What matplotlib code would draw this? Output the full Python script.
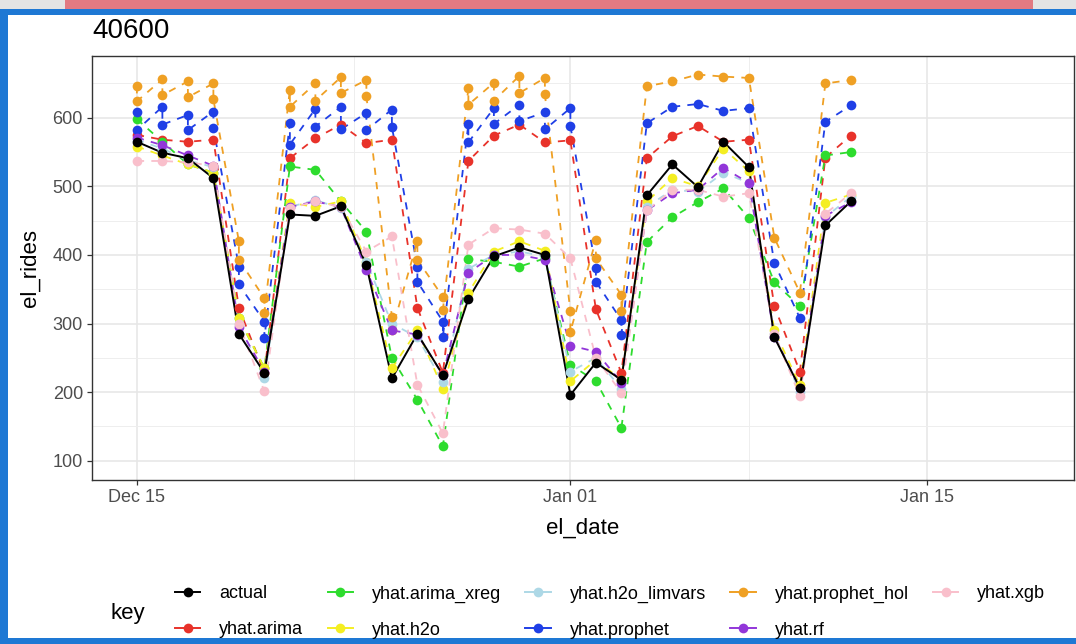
import matplotlib
matplotlib.use("Agg")
import matplotlib.pyplot as plt
import matplotlib.dates as mdates
from matplotlib.lines import Line2D
from matplotlib.patches import Rectangle
import numpy as np
import pandas as pd

plt.rcParams['font.family'] = ['Liberation Sans', 'DejaVu Sans']

# ---------------- data ----------------
dates = pd.date_range("2015-12-15", periods=29, freq="D")

actual = [565, 549, 541, 512, 285, 228, 459, 457, 471, 385, 220, 285, 225, 336, 398,
          411, 400, 196, 243, 218, 487, 532, 499, 565, 528, 280, 206, 443, 478]
arima = [575, 568, 565, 568, 323, 228, 541, 570, 590, 563, 568, 323, 228, 537, 574,
         590, 564, 567, 321, 228, 541, 573, 588, 565, 568, 325, 230, 542, 574]
arima_xreg = [598, 565, 532, 520, 308, 235, 529, 524, 478, 434, 250, 189, 121, 394, 390,
              383, 395, 240, 216, 148, 419, 455, 477, 497, 454, 360, 325, 545, 550]
h2o = [558, 545, 532, 520, 308, 235, 476, 470, 478, 390, 235, 290, 205, 345, 405,
       420, 406, 216, 247, 218, 478, 512, 500, 555, 522, 290, 210, 476, 488]
h2o_limvars = [568, 555, 538, 528, 300, 220, 470, 480, 468, 390, 300, 280, 215, 380, 400,
               405, 398, 230, 250, 205, 470, 495, 492, 520, 505, 285, 200, 455, 485]
prophet_a = [609, 616, 604, 609, 383, 303, 592, 613, 616, 607, 612, 383, 303, 591, 614,
             619, 608, 614, 381, 305, 592, 616, 620, 610, 614, 388, 308, 594, 618]
prophet_b = [582, 590, 582, 585, 357, 279, 561, 587, 583, 582, 587, 361, 281, 564, 591,
             595, 583, 588, 361, 284, None, None, None, None, None, None, None, None, None]
prophet_hol_a = [646, 656, 653, 650, 420, 337, 641, 650, 659, 655, 310, 420, 339, 643, 651,
                 661, 658, 318, 422, 342, 646, 653, 663, 660, 658, 425, 345, 650, 655]
prophet_hol_b = [624, 633, 630, 627, 393, 316, 616, 625, 636, 632, 290, 393, 320, 619, 625,
                 636, 634, 288, 395, 318, None, None, None, None, None, None, None, None, None]
rf = [571, 560, 545, 530, 295, 230, 470, 478, 470, 378, 290, 284, 225, 374, 400,
      400, 393, 268, 259, 214, 465, 490, 495, 527, 505, 281, 206, 457, 477]
xgb = [537, 537, 535, 530, 300, 201, 468, 478, 470, 405, 427, 211, 140, 415, 439,
       437, 431, 395, 250, 199, 465, 495, 495, 485, 490, 285, 194, 460, 490]

keys = ["actual", "yhat.arima", "yhat.arima_xreg", "yhat.h2o", "yhat.h2o_limvars",
        "yhat.prophet", "yhat.prophet_hol", "yhat.rf", "yhat.xgb"]
colors = ["#000000", "#E8322A", "#2EDC2E", "#F4EE22", "#ADD8E6",
          "#1F3FE6", "#EFA024", "#9236D9", "#F9BFCB"]

series = {
    "actual": (actual, None),
    "yhat.arima": (arima, None),
    "yhat.arima_xreg": (arima_xreg, None),
    "yhat.h2o": (h2o, None),
    "yhat.h2o_limvars": (h2o_limvars, None),
    "yhat.prophet": (prophet_a, prophet_b),
    "yhat.prophet_hol": (prophet_hol_a, prophet_hol_b),
    "yhat.rf": (rf, None),
    "yhat.xgb": (xgb, None),
}


def sequence(a, b):
    xs, ys = [], []
    for i, d in enumerate(dates):
        xs.append(d)
        ys.append(a[i])
        if b is not None and b[i] is not None:
            xs.append(d)
            ys.append(b[i])
    return xs, ys


W, H = 1076, 644
fig = plt.figure(figsize=(W / 100, H / 100), dpi=100)
fig.patch.set_facecolor("white")

# decorative frame from the screenshot
fig.patches.append(Rectangle((0, 1 - 9 / H), 1, 9 / H, transform=fig.transFigure,
                             facecolor="#E4E4E4", edgecolor="none", zorder=0))
fig.patches.append(Rectangle((65 / W, 1 - 9 / H), (1033 - 65) / W, 9 / H, transform=fig.transFigure,
                             facecolor="#E27A82", edgecolor="none", zorder=1))
fig.patches.append(Rectangle((0, 1 - 15 / H), 1, 6 / H, transform=fig.transFigure,
                             facecolor="#1E78D4", edgecolor="none", zorder=1))
fig.patches.append(Rectangle((0, 0), 8 / W, 1 - 9 / H, transform=fig.transFigure,
                             facecolor="#1E78D4", edgecolor="none", zorder=1))
fig.patches.append(Rectangle((0, 0), 1, 6 / H, transform=fig.transFigure,
                             facecolor="#1E78D4", edgecolor="none", zorder=1))

left, right, top, bottom = 92, 1074, 56, 480
ax = fig.add_axes([left / W, 1 - bottom / H, (right - left) / W, (bottom - top) / H])

# lines
for k, c in zip(keys, colors):
    a, b = series[k]
    xs, ys = sequence(a, b)
    if k == "actual":
        ax.plot(xs, ys, color=c, lw=1.4, zorder=4)
    else:
        ax.plot(xs, ys, color=c, lw=1.3, ls=(0, (4, 4)), zorder=3)

# points
for k, c in zip(keys, colors):
    if k == "actual":
        continue
    a, b = series[k]
    xs, ys = sequence(a, b)
    ax.plot(xs, ys, ls="none", marker="o", ms=7, color=c, mec="none", zorder=5)
xs, ys = sequence(actual, None)
ax.plot(xs, ys, ls="none", marker="o", ms=7, color="black", mec="none", zorder=6)

# axes styling (theme_bw-like)
d0 = pd.Timestamp("2015-12-15")
ax.set_xlim(mdates.date2num(d0 - pd.Timedelta(days=1.76)),
            mdates.date2num(d0 + pd.Timedelta(days=36.75)))
ax.set_ylim(72, 690)

major_x = [pd.Timestamp("2015-12-15"), pd.Timestamp("2016-01-01"), pd.Timestamp("2016-01-15")]
minor_x = [pd.Timestamp("2015-12-23 12:00"), pd.Timestamp("2016-01-08")]
ax.set_xticks([mdates.date2num(d) for d in major_x])
ax.set_xticklabels(["Dec 15", "Jan 01", "Jan 15"])
ax.set_xticks([mdates.date2num(d) for d in minor_x], minor=True)
ax.set_yticks([100, 200, 300, 400, 500, 600])
ax.set_yticks([150, 250, 350, 450, 550, 650], minor=True)

ax.grid(True, which="major", color="#E6E6E6", lw=1.1, zorder=0)
ax.grid(True, which="minor", color="#EEEEEE", lw=0.7, zorder=0)
ax.set_axisbelow(True)
ax.tick_params(which="major", length=3.5, width=0.9, color="#333333",
               labelsize=13, labelcolor="#4D4D4D", pad=3)
ax.tick_params(which="minor", length=0)
for s in ax.spines.values():
    s.set_color("#333333")
    s.set_linewidth(1.0)

fig.text(30 / W, 1 - 268 / H, "el_rides", rotation=90, ha="center", va="center",
         fontsize=16, color="black")
fig.text((left + right) / 2 / W, 1 - 528 / H, "el_date", ha="center", va="center",
         fontsize=16, color="black")
fig.text(92 / W, 1 - 31 / H, "40600", ha="left", va="center", fontsize=20, color="black")

# legend
handles = []
for k, c in zip(keys, colors):
    handles.append(Line2D([], [], color=c, lw=1.4, marker="o", ms=7, mec="none"))
fig.legend(handles, keys, ncol=5, loc="center left",
           bbox_to_anchor=(175 / W, 1 - 612 / H), frameon=False, fontsize=13,
           handlelength=1.4, handletextpad=1.05, columnspacing=1.35, labelspacing=1.05,
           borderpad=0, borderaxespad=0)
fig.text(110 / W, 1 - 614 / H, "key", ha="left", va="center", fontsize=16, color="black")

fig.savefig("out.png", dpi=100)
